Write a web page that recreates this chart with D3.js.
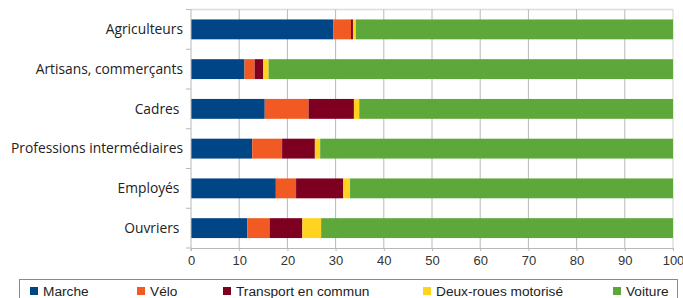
<!DOCTYPE html>
<html>
<head>
<meta charset="utf-8">
<script src="https://cdn.jsdelivr.net/npm/d3@7"></script>
<style>
  body { margin: 0; background: #fff; }
  svg { display: block; }
</style>
</head>
<body>
<div id="chart"></div>
<script>
'use strict';

// categories, top to bottom (trailing spaces kept as in the source chart)
const categories = ["Agriculteurs", "Artisans, commerçants", "Cadres ", "Professions intermédiaires", "Employés ", "Ouvriers "];
const seriesNames = ["Marche", "Vélo", "Transport en commun", "Deux-roues motorisé", "Voiture"];

// values in %, one array per mode, same order as categories
const marche    = [29.5, 11.1, 15.3, 12.7, 17.6, 11.7];
const velo      = [3.7, 2.1, 9.1, 6.2, 4.2, 4.6];
const transport = [0.4, 1.8, 9.4, 6.8, 9.8, 6.8];
const deuxRoues = [0.6, 1.1, 1.1, 1.1, 1.4, 3.9];
const voiture   = [65.8, 83.9, 65.1, 73.2, 67.0, 73.0];

const xTicks = [0, 10, 20, 30, 40, 50, 60, 70, 80, 90, 100];
const colors = ["#004586", "#f15a22", "#7e0021", "#ffd320", "#5ea73b"];

const W = 683, H = 298;
const margin = {top: 9.5, right: 10, bottom: 50, left: 191};

const svg = d3.select("#chart")
    .append("svg")
    .attr("width", W)
    .attr("height", H);

const x = d3.scaleLinear()
    .domain([0, 100])
    .range([margin.left, W - margin.right]);

const y = d3.scaleBand()
    .domain(categories)
    .range([margin.top, H - margin.bottom])
    .paddingInner(0.5)
    .paddingOuter(0.25);

// rows for stacking
const rows = categories.map(function(c, i) {
    return {cat: c, "Marche": marche[i], "Vélo": velo[i], "Transport en commun": transport[i],
            "Deux-roues motorisé": deuxRoues[i], "Voiture": voiture[i]};
});
const stacked = d3.stack().keys(seriesNames)(rows);

// frame top
svg.append("line")
    .attr("x1", x(0)).attr("x2", x(100))
    .attr("y1", margin.top).attr("y2", margin.top)
    .attr("stroke", "#dcdcdc").attr("stroke-width", 1.5);

// gridlines
svg.append("g")
    .selectAll("line")
    .data(xTicks.slice(1))
    .enter()
    .append("line")
    .attr("x1", d => x(d)).attr("x2", d => x(d))
    .attr("y1", margin.top).attr("y2", H - margin.bottom)
    .attr("stroke", d => d === 100 ? "#d0d0d0" : "#b8b8b8")
    .attr("stroke-width", 1);

// bars
svg.append("g")
    .selectAll("g")
    .data(stacked)
    .enter()
    .append("g")
    .attr("fill", (d, i) => colors[i])
    .selectAll("rect")
    .data(d => d)
    .enter()
    .append("rect")
    .attr("x", d => x(d[0]))
    .attr("width", d => x(d[1]) - x(d[0]))
    .attr("y", d => y(d.data.cat))
    .attr("height", y.bandwidth());

// left axis line and separator ticks
const bandEdges = categories.map(c => y(c) - y.step() * y.paddingInner() / 2);
bandEdges.push(H - margin.bottom);
svg.append("line")
    .attr("x1", x(0)).attr("x2", x(0))
    .attr("y1", margin.top).attr("y2", H - margin.bottom + 3)
    .attr("stroke", "#b8b8b8");
svg.append("g")
    .selectAll("line")
    .data(bandEdges)
    .enter()
    .append("line")
    .attr("x1", x(0) - 5).attr("x2", x(0))
    .attr("y1", d => d).attr("y2", d => d)
    .attr("stroke", "#b8b8b8");

// category labels
svg.append("g")
    .selectAll("text")
    .data(categories)
    .enter()
    .append("text")
    .attr("x", 183)
    .attr("y", d => y(d) + y.bandwidth() / 2)
    .attr("dy", "0.35em")
    .attr("text-anchor", "end")
    .attr("font-family", "Open Sans, sans-serif")
    .attr("font-size", 13.8)
    .attr("fill", "#222")
    .style("white-space", "pre")
    .text(d => d.replace(/ $/, "\u00a0"));

// bottom axis
const xAxis = svg.append("g")
    .attr("transform", "translate(0," + (H - margin.bottom) + ")")
    .call(d3.axisBottom(x).tickValues(xTicks).tickSize(3).tickPadding(5));
xAxis.select(".domain").attr("stroke", "#b8b8b8");
xAxis.selectAll(".tick line").attr("stroke", "#b8b8b8");
xAxis.selectAll(".tick text")
    .attr("font-family", "Liberation Sans, Arial, sans-serif")
    .attr("font-size", 13)
    .attr("fill", "#333");

// legend
const legendX = [30, 137, 223, 423, 613];
svg.append("rect")
    .attr("x", 19.5).attr("y", 279.5)
    .attr("width", 658).attr("height", 30)
    .attr("fill", "none")
    .attr("stroke", "#8a8a8a");

const legend = svg.append("g")
    .selectAll("g")
    .data(seriesNames)
    .enter()
    .append("g")
    .attr("transform", (d, i) => "translate(" + legendX[i] + ",0)");
legend.append("rect")
    .attr("x", 0).attr("y", 287)
    .attr("width", 8).attr("height", 8)
    .attr("fill", (d, i) => colors[i]);
legend.append("text")
    .attr("x", 13).attr("y", 296)
    .attr("font-family", "Liberation Sans, Arial, sans-serif")
    .attr("font-size", 13.7)
    .attr("fill", "#222")
    .text(d => d);
</script>
</body>
</html>
